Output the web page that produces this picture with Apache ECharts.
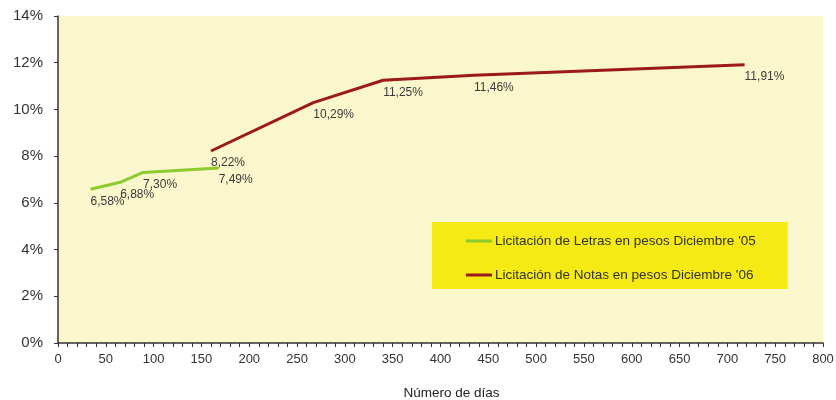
<!DOCTYPE html>
<html>
<head>
<meta charset="utf-8">
<script src="https://cdn.jsdelivr.net/npm/echarts@6/dist/echarts.min.js"></script>
<style>
  html, body { margin: 0; padding: 0; background: #ffffff; }
  #chart { width: 836px; height: 400px; }
</style>
</head>
<body>
<div id="chart"></div>
<script>
// Plazo en días y tasa de corte (%) de cada licitación
const letrasDias = [34, 65, 89, 168];
const letrasTasa = [6.58, 6.88, 7.30, 7.49];
const notasDias = [160, 267, 340, 435, 718];
const notasTasa = [8.22, 10.29, 11.25, 11.46, 11.91];

const seriesNames = [
  "Licitación de Letras en pesos Diciembre '05",
  "Licitación de Notas en pesos Diciembre '06"
];
const seriesColors = ['#8DCB2E', '#9B1A1A'];
const xTitle = 'Número de días';

const fmtPct = v => v.toFixed(2).replace('.', ',') + '%';

const pairs = (xs, ys) => xs.map((x, i) => [x, ys[i]]);

const chart = echarts.init(document.getElementById('chart'));

const labelStyle = {
  show: true,
  position: 'bottom',
  align: 'left',
  distance: 5,
  color: '#3a3a3a',
  fontFamily: 'Liberation Sans, Arial, sans-serif',
  fontSize: 12,
  formatter: p => fmtPct(p.value[1])
};

// Each vertex carries a transparent marker so its value label can be attached
const makeSeries = (i, xs, ys) => ({
  name: seriesNames[i],
  type: 'line',
  data: pairs(xs, ys),
  symbol: 'circle',
  symbolSize: 2,
  showSymbol: true,
  itemStyle: { color: 'rgba(0,0,0,0)', borderWidth: 0 },
  lineStyle: { color: seriesColors[i], width: 3 },
  label: labelStyle,
  labelLayout: { hideOverlap: false }
});

chart.setOption({
  animation: false,
  textStyle: { fontFamily: 'Liberation Sans, Arial, sans-serif' },
  grid: {
    left: 58, right: 13, top: 16, bottom: 57,
    outerBoundsMode: 'none',
    containLabel: false,
    show: true,
    backgroundColor: '#FBF7CC',
    borderWidth: 0
  },
  legend: {
    orient: 'vertical',
    left: 432,
    top: 222,
    backgroundColor: '#F5EA14',
    padding: [12, 32, 7, 34],
    itemGap: 20,
    itemWidth: 26,
    itemHeight: 3,
    icon: 'rect',
    textStyle: { color: '#333333', fontSize: 13.5, padding: [0, 0, 0, -2] },
    data: seriesNames.map((n, i) => ({
      name: n,
      itemStyle: { color: seriesColors[i], opacity: 1 }
    }))
  },
  xAxis: {
    type: 'value',
    min: 0, max: 800, interval: 50,
    name: xTitle,
    nameLocation: 'middle',
    nameGap: 43,
    nameTextStyle: { color: '#222222', fontSize: 13.5, padding: [0, 0, 0, 22] },
    axisLine: { show: true, onZero: false, lineStyle: { color: '#333333', width: 1.5 } },
    axisTick: { show: true, length: 4, lineStyle: { color: '#333333' } },
    minorTick: { show: true, splitNumber: 5, length: 4, lineStyle: { color: '#333333' } },
    axisLabel: { color: '#333333', fontSize: 13, margin: 10 },
    splitLine: { show: false }
  },
  yAxis: {
    type: 'value',
    min: 0, max: 14, interval: 2,
    axisLine: { show: true, lineStyle: { color: '#333333', width: 1.5 } },
    axisTick: { show: true, length: 4, lineStyle: { color: '#333333' } },
    axisLabel: { color: '#333333', fontSize: 15, margin: 15, formatter: '{value}%' },
    splitLine: { show: false }
  },
  series: [
    makeSeries(0, letrasDias, letrasTasa),
    makeSeries(1, notasDias, notasTasa)
  ]
});
</script>
</body>
</html>
